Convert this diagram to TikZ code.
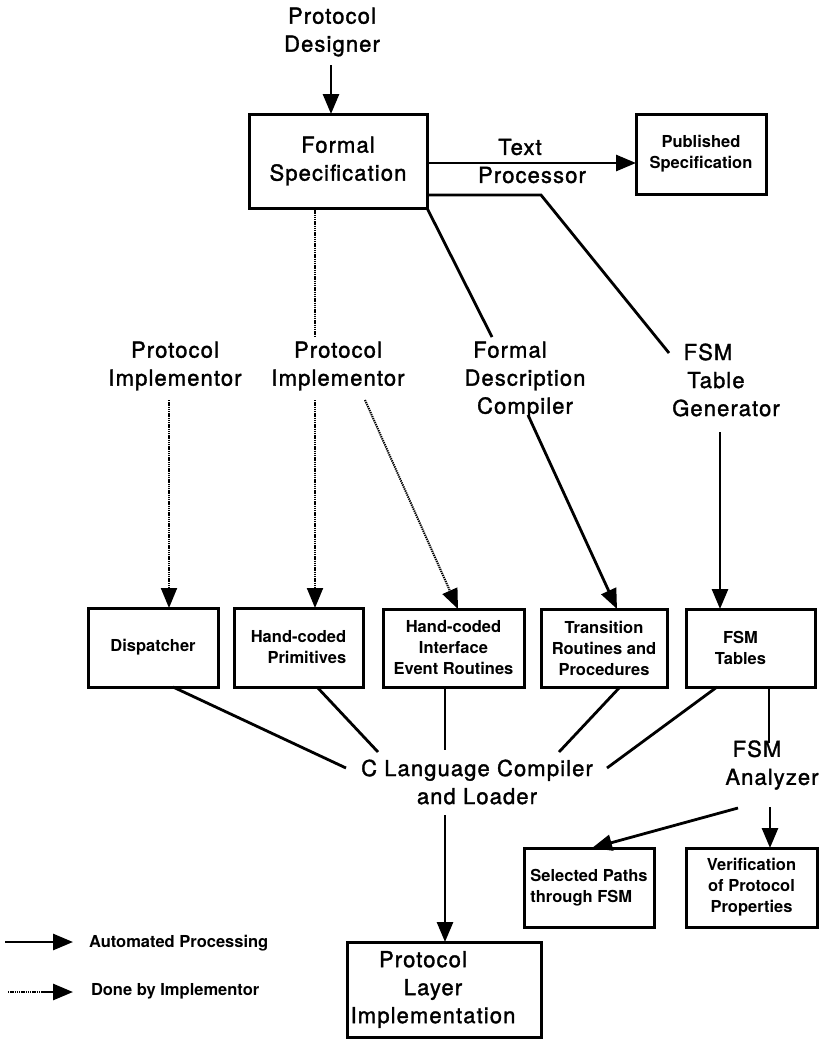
\documentclass[tikz,border=0pt]{standalone}
\usepackage{fontspec}
\setmainfont{TeX Gyre Heros}
\newfontfamily\widefont[LetterSpace=5,FakeBold=1.5]{TeX Gyre Heros}
\usetikzlibrary{arrows.meta}
\begin{document}
\begin{tikzpicture}[x=1pt,y=-1pt,
  every node/.style={inner sep=0pt, outer sep=0pt},
  big/.style={font=\widefont\fontsize{22}{28}\selectfont, align=center},
  small/.style={font=\bfseries\fontsize{16.5}{21}\selectfont, align=center},
  box/.style={draw, line width=3pt, small},
  bigbox/.style={draw, line width=3pt, big},
  conn/.style={line width=2.8pt},
  tip/.style={-{Triangle[length=20pt,width=16pt]}},
  autoarrow/.style={conn, tip},
  dots/.style={line width=2pt, dash pattern=on 1.3pt off 0.9pt},
  implarrow/.style={dots, tip},
  legendtext/.style={font=\bfseries\fontsize{16.5}{21}\selectfont, anchor=west}
]
\useasboundingbox (0,0) rectangle (823,1039);

% ---- boxes ----
\node[bigbox, minimum width=178pt, minimum height=94pt] (spec) at (338,161) {Formal\\Specification};
\node[box, minimum width=130pt, minimum height=80pt] (pub) at (701,154) {Published\\Specification};
\node[box, minimum width=130pt, minimum height=79pt] (disp) at (153,647.5) {Dispatcher};
\node[box, align=right, minimum width=129pt, minimum height=79pt] (prim) at (298.5,647.5) {Hand-coded\\Primitives};
\node[box, minimum width=141pt, minimum height=78pt] (iface) at (453.5,648) {Hand-coded\\Interface\\Event Routines};
\node[box, minimum width=126pt, minimum height=78pt] (trans) at (604,648) {Transition\\Routines and\\Procedures};
\node[box, minimum width=129pt, minimum height=78pt] (tables) at (750.5,648) {FSM\hspace*{20pt}\\Tables\hspace*{20pt}};
\node[box, align=left, minimum width=130pt, minimum height=79pt] (paths) at (589,887.5) {Selected Paths\\through FSM};
\node[box, minimum width=131pt, minimum height=79pt] (verif) at (751.5,887.5) {Verification\\of Protocol\\Properties};
\node[draw, line width=3pt, minimum width=194pt, minimum height=95pt] (layer) at (444,989.5) {};
\node[big] (layertext) at (433,989.5) {\hspace*{-20pt}Protocol\\Layer\\Implementation};

% ---- process labels ----
\node[big] (designer) at (332,32) {Protocol\\Designer};
\node[big] (textproc) at (532,161) {\hspace*{-24pt}Text\\Processor};
\node[big] (impl1) at (175,366) {Protocol\\Implementor};
\node[big] (impl2) at (338,366) {Protocol\\Implementor};
\node[big] (fdc) at (525,380) {\hspace*{-30pt}Formal\\Description\\Compiler};
\node[big] (fsmgen) at (726,380) {\hspace*{-36pt}FSM\\\hspace*{-20pt}Table\\Generator};
\node[big] (clang) at (477,782) {C Language Compiler\\and Loader};
\node[big] (analyzer) at (772,765) {\hspace*{-30pt}FSM\\Analyzer};

% ---- free ends of connectors ----
\coordinate (dsgOut) at (331,65);
\coordinate (tpLevel) at (0,163);
\coordinate (fsmBend) at (541,195);
\coordinate (fsmIn) at (669,353);
\coordinate (fdcIn) at (492,337);
\coordinate (impl2In) at (315,337);
\coordinate (impl1Out) at (169,400);
\coordinate (impl2Out) at (315,400);
\coordinate (impl2Side) at (365,400);
\coordinate (fdcOut) at (528,415);
\coordinate (fsmOut) at (720,432);
\coordinate (clangA) at (346,768);
\coordinate (clangB) at (378,752);
\coordinate (clangC) at (445,750);
\coordinate (clangD) at (559,752);
\coordinate (clangE) at (607,768);
\coordinate (anaIn) at (769,743);
\coordinate (anaOutA) at (738,808);
\coordinate (anaOutB) at (770,807);
\coordinate (clangOut) at (445,815);

% ---- specification stage ----
\draw[autoarrow] (dsgOut) -- (dsgOut |- spec.north);
\draw[autoarrow] (spec.east |- tpLevel) -- (pub.west |- tpLevel);
\draw[conn] (spec.east |- fsmBend) -- (fsmBend) -- (fsmIn);
\draw[conn] (spec.south east) -- (fdcIn);
\draw[dots] (impl2In |- spec.south) -- (impl2In);

% ---- code generation stage ----
\draw[implarrow] (impl1Out) -- ([xshift=16pt]disp.north);
\draw[implarrow] (impl2Out) -- ([xshift=16.5pt]prim.north);
\draw[implarrow] (impl2Side) -- ([xshift=4.5pt]iface.north);
\draw[autoarrow] (fdcOut) -- ([xshift=13pt]trans.north);
\draw[autoarrow] (fsmOut) -- ([xshift=-30.5pt]tables.north);

% ---- compilation and analysis ----
\draw[conn] ([xshift=20pt]disp.south) -- (clangA);
\draw[conn] ([xshift=18.5pt]prim.south) -- (clangB);
\draw[conn] ([xshift=-8.5pt]iface.south) -- (clangC);
\draw[conn] ([xshift=16pt]trans.south) -- (clangD);
\draw[conn] ([xshift=-33.5pt]tables.south) -- (clangE);
\draw[conn] ([xshift=18.5pt]tables.south) -- (anaIn);
\draw[autoarrow] (anaOutA) -- ([xshift=3pt]paths.north);
\draw[autoarrow] (anaOutB) -- ([xshift=18.5pt]verif.north);
\draw[autoarrow] (clangOut) -- ([xshift=1pt]layer.north);

% ---- legend ----
\coordinate (legA) at (5,942);
\coordinate (legB) at (73,942);
\coordinate (legC) at (8,992);
\coordinate (legD) at (42,992);
\coordinate (legE) at (73,992);
\draw[autoarrow] (legA) -- (legB);
\draw[dots] (legC) -- (legD);
\draw[autoarrow] (legD) -- (legE);
\node[legendtext] (legAuto) at (89,943) {Automated Processing};
\node[legendtext] (legImpl) at (91,991) {Done by Implementor};
\end{tikzpicture}
\end{document}
